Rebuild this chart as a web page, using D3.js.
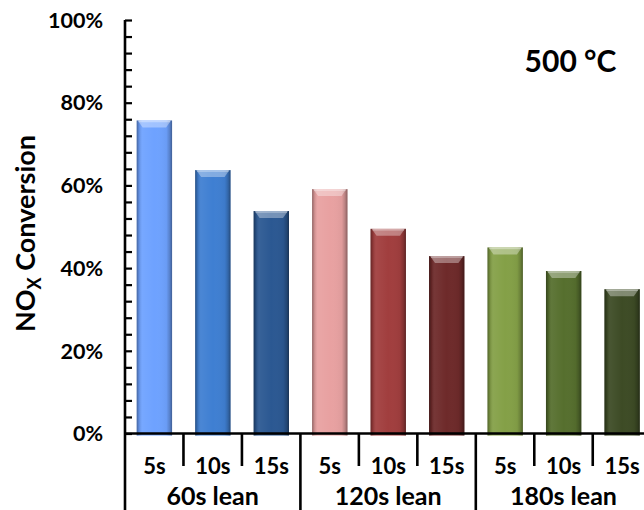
<!DOCTYPE html>
<html>
<head>
<meta charset="utf-8">
<script src="https://cdn.jsdelivr.net/npm/d3@7"></script>
<style>
  html, body { margin: 0; padding: 0; background: #fff; }
  svg { display: block; }
  text { font-family: "Lato", "Open Sans", sans-serif; font-weight: 700; fill: #000; }
</style>
</head>
<body>
<svg id="chart" width="644" height="510"></svg>
<script>
// ---- data ----
const groups = ["60s lean", "120s lean", "180s lean"];
const pulses = ["5s", "10s", "15s"];
const values = [
  [75.7, 63.7, 53.8],   // 60s lean
  [59.1, 49.5, 42.9],   // 120s lean
  [45.0, 39.3, 34.9]    // 180s lean
];
const colors = [
  ["#6ea2ff", "#3f7fd2", "#2b5892"],
  ["#e8a1a1", "#a13e3e", "#6e2a2a"],
  ["#84a047", "#566f2e", "#3d4b25"]
];
const yTicks = [0, 20, 40, 60, 80, 100];
const temperatureLabel = "500 °C";

// ---- layout ----
const svg = d3.select("#chart");
const x0 = 125, x1 = 651.5, yTop = 20, yBase = 433.5;

const cats = [];
groups.forEach((g, gi) => pulses.forEach((p, pi) => cats.push({ g, gi, p, pi, key: g + "|" + p, v: values[gi][pi], c: colors[gi][pi] })));

const x = d3.scaleBand().domain(cats.map(d => d.key)).range([x0, x1]).paddingInner(0.395).paddingOuter(0.2);
const xStep = x.step();
const y = d3.scaleLinear().domain([0, 100]).range([yBase, yTop]);

// gradient overlays for bevel look
const defs = svg.append("defs");
const hg = defs.append("linearGradient").attr("id", "shade").attr("x1", "0%").attr("x2", "100%").attr("y1", "0%").attr("y2", "0%");
[[0, "#000", 0.38], [0.07, "#000", 0.12], [0.16, "#fff", 0.06], [0.5, "#fff", 0.0], [0.84, "#000", 0.04], [0.93, "#000", 0.2], [1, "#000", 0.42]]
  .forEach(s => hg.append("stop").attr("offset", s[0]).attr("stop-color", s[1]).attr("stop-opacity", s[2]));

// bars
const bars = svg.append("g");
cats.forEach(d => {
  const bx = x(d.key), bw = x.bandwidth(), by = y(d.v), bh = yBase + 2 - by;
  bars.append("rect").attr("x", bx).attr("y", by).attr("width", bw).attr("height", bh).attr("fill", d.c);
  bars.append("rect").attr("x", bx).attr("y", by).attr("width", bw).attr("height", bh).attr("fill", "url(#shade)");
  // top bevel highlight
  bars.append("path")
    .attr("d", `M${bx + 1},${by} L${bx + bw - 1},${by} L${bx + bw - 6},${by + 7} L${bx + 6},${by + 7} Z`)
    .attr("fill", "#fff").attr("fill-opacity", 0.35);
  bars.append("path")
    .attr("d", `M${bx + 2},${by + 1} L${bx + bw - 2},${by + 1}`)
    .attr("stroke", "#fff").attr("stroke-opacity", 0.35).attr("stroke-width", 1.5);
});

// y axis
const yAxis = d3.axisRight(y).tickValues(d3.range(0, 101, 4)).tickSize(7).tickFormat("");
const gy = svg.append("g").attr("transform", `translate(${x0},0)`).call(yAxis);
gy.select(".domain").remove();
gy.selectAll(".tick line").attr("stroke", "#000").attr("stroke-width", 2.2);
svg.append("line").attr("x1", x0).attr("x2", x0).attr("y1", yTop).attr("y2", 510)
  .attr("stroke", "#000").attr("stroke-width", 2.6);

svg.append("g").selectAll("text").data(yTicks).join("text")
  .attr("x", 103).attr("y", d => y(d)).attr("dy", "0.36em")
  .attr("text-anchor", "end").attr("font-size", 21.5).text(d => d + "%");

// x axis line
svg.append("line").attr("x1", x0).attr("x2", 644).attr("y1", yBase).attr("y2", yBase)
  .attr("stroke", "#000").attr("stroke-width", 2.6);

// x separators
const sepIdx = d3.range(1, cats.length + 1);
svg.append("g").selectAll("line").data(sepIdx).join("line")
  .attr("x1", i => x0 + i * xStep).attr("x2", i => x0 + i * xStep)
  .attr("y1", yBase).attr("y2", i => (i % 3 === 0 ? 510 : 466))
  .attr("stroke", "#000").attr("stroke-width", 2.6);

// category labels
svg.append("g").selectAll("text").data(cats).join("text")
  .attr("x", d => x(d.key) + x.bandwidth() / 2).attr("y", 474)
  .attr("text-anchor", "middle").attr("font-size", 22).text(d => d.p);

// group labels
svg.append("g").selectAll("text").data(groups).join("text")
  .attr("x", (d, i) => x0 + (i * 3 + 1.5) * xStep).attr("y", 505)
  .attr("text-anchor", "middle").attr("font-size", 25).text(d => d);

// y title
const title = svg.append("text").attr("transform", "translate(35,233.5) rotate(-90)")
  .attr("text-anchor", "middle").attr("font-size", 27);
title.append("tspan").text("NO");
title.append("tspan").attr("font-size", 18).attr("dy", 6).text("X");
title.append("tspan").attr("dy", -6).text(" Conversion");

// temperature label
svg.append("text").attr("x", 570.5).attr("y", 72).attr("text-anchor", "middle")
  .attr("font-size", 30).text(temperatureLabel);
</script>
</body>
</html>
